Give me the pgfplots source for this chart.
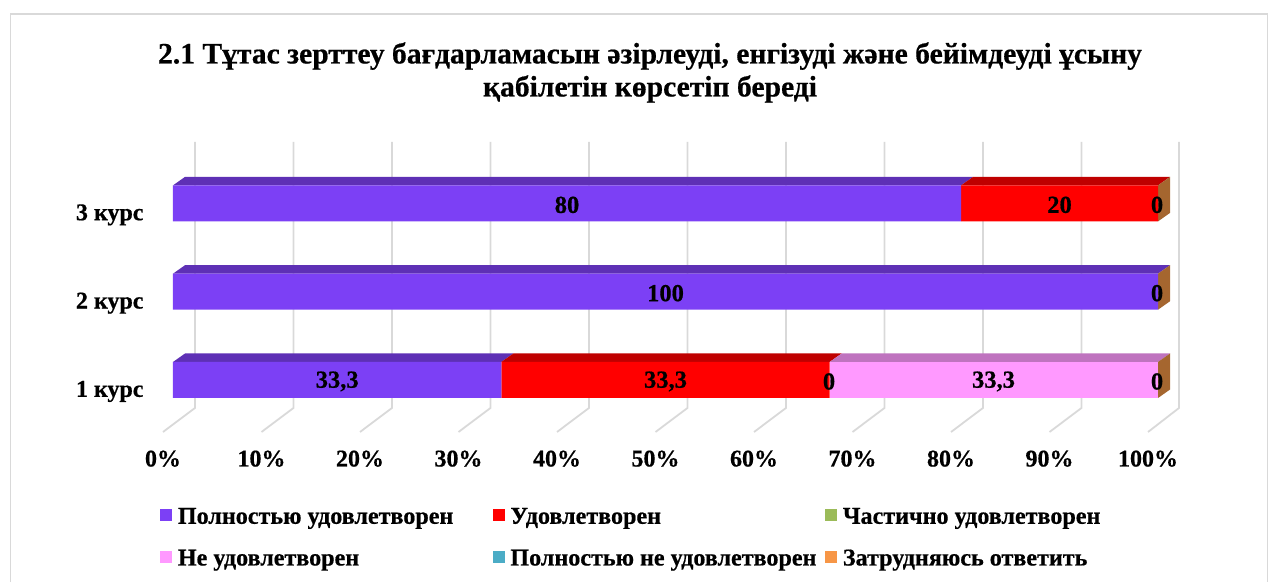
\documentclass[border=0pt]{standalone}
\usepackage{fontspec}
\setmainfont[BoldFeatures={FakeBold=0.6}]{Liberation Serif}
\usepackage{pgfplots}
\usepackage{pgfplotstable}
\pgfplotsset{compat=1.18}
\definecolor{cpurple}{HTML}{7C40F5}
\definecolor{cpurpletop}{HTML}{5E30B5}
\definecolor{cred}{HTML}{FF0000}
\definecolor{credtop}{HTML}{BF0000}
\definecolor{cgreen}{HTML}{9BBB59}
\definecolor{cpink}{HTML}{FF99FF}
\definecolor{cpinktop}{HTML}{BF73BF}
\definecolor{cteal}{HTML}{4BACC6}
\definecolor{corange}{HTML}{F79646}
\definecolor{cside}{HTML}{A5662F}
\definecolor{cgrid}{HTML}{D9D9D9}
\pgfplotstableread{
y s1 s2 s3 s4 s5 s6
1 33.33 33.33 0 33.33 0 0
2 100 0 0 0 0 0
3 80 20 0 0 0 0
}\datatable
\pgfplotstableread{
x y v
16.67 1 33.3
50 1 33.3
66.6 1 0
83.3 1 33.3
99.9 1 0
50 2 100
99.9 2 0
40 3 80
90 3 20
99.9 3 0
}\labeltable
\pgfplotsset{
  base/.style={
    at={(163pt,150pt)},anchor=south west,
    scale only axis,width=1016pt,height=290pt,
    xmin=-1.015,xmax=102.13,ymin=0.411,ymax=3.695,
  },
  sq/.style={legend image code/.code={\fill[##1] (0pt,-6pt) rectangle (12pt,6pt);}},
}
\newcommand{\lgd}[1]{\makebox[309pt][l]{\strut #1}}
\newcommand{\gridl}[2]{\addplot[cgrid,line width=1.8pt] coordinates {(#2,3.695) (#2,0.683) (#1,0.411)};}
\begin{document}
\begin{tikzpicture}[x=1pt,y=1pt]
\path[use as bounding box] (0,0) rectangle (1278,582);
\draw[cgrid,line width=1.5pt] (10.5,0) -- (10.5,568) -- (1267.5,568) -- (1267.5,0);
\node[align=center,font=\fontsize{29.6}{33}\selectfont\bfseries] at (650,509.5)
  {2.1 Тұтас зерттеу бағдарламасын әзірлеуді, енгізуді және бейімдеуді ұсыну\\қабілетін көрсетіп береді};
% grid, ticks and 3D faces
\begin{axis}[base,
  axis line style={draw=none},
  major tick length=0pt,
  xtick={0,10,...,100},
  xticklabels={0\%,10\%,20\%,30\%,40\%,50\%,60\%,70\%,80\%,90\%,100\%},
  x tick label style={font=\fontsize{24}{26}\selectfont\bfseries,xshift=-10pt,yshift=-15pt},
  ytick={1,2,3},
  yticklabels={1 курс,2 курс,3 курс},
  y tick label style={font=\fontsize{24}{26}\selectfont\bfseries,xshift=-16pt,yshift=-11.5pt},
  clip=false,
]
\gridl{-1.015}{2.23}\gridl{8.985}{12.23}\gridl{18.985}{22.23}\gridl{28.985}{32.23}\gridl{38.985}{42.23}\gridl{48.985}{52.23}\gridl{58.985}{62.23}\gridl{68.985}{72.23}\gridl{78.985}{82.23}\gridl{88.985}{92.23}\gridl{98.985}{102.13}
% 3 course
\addplot[fill=cpurpletop,draw=none] coordinates {(0,3.204) (80,3.204) (81.22,3.30) (1.22,3.30)} --cycle;
\addplot[fill=credtop,draw=none] coordinates {(80,3.204) (100,3.204) (101.22,3.30) (81.22,3.30)} --cycle;
\addplot[fill=cside,draw=none] coordinates {(100,2.796) (100,3.204) (101.22,3.30) (101.22,2.892)} --cycle;
% 2 course
\addplot[fill=cpurpletop,draw=none] coordinates {(0,2.204) (100,2.204) (101.22,2.30) (1.22,2.30)} --cycle;
\addplot[fill=cside,draw=none] coordinates {(100,1.796) (100,2.204) (101.22,2.30) (101.22,1.892)} --cycle;
% 1 course
\addplot[fill=cpurpletop,draw=none] coordinates {(0,1.204) (33.33,1.204) (34.55,1.30) (1.22,1.30)} --cycle;
\addplot[fill=credtop,draw=none] coordinates {(33.33,1.204) (66.66,1.204) (67.88,1.30) (34.55,1.30)} --cycle;
\addplot[fill=cpinktop,draw=none] coordinates {(66.66,1.204) (100,1.204) (101.22,1.30) (67.88,1.30)} --cycle;
\addplot[fill=cside,draw=none] coordinates {(100,0.796) (100,1.204) (101.22,1.30) (101.22,0.892)} --cycle;
\end{axis}
% front faces and legend
\begin{axis}[base,hide axis,
  xbar stacked,bar width=36pt,
  legend columns=3,
  legend cell align=left,
  legend style={at={(axis description cs:-0.003,-0.253)},anchor=north west,draw=none,fill=none,
    font=\fontsize{24.1}{26}\selectfont\bfseries,
    column sep=5.75pt,row sep=22pt,inner sep=0pt,nodes={inner sep=0pt}},
]
\addplot[fill=cpurple,draw=none,sq] table[x=s1,y=y] {\datatable};
\addlegendentry{\lgd{Полностью удовлетворен}}
\addplot[fill=cred,draw=none,sq] table[x=s2,y=y] {\datatable};
\addlegendentry{\lgd{Удовлетворен}}
\addplot[fill=cgreen,draw=none,sq] table[x=s3,y=y] {\datatable};
\addlegendentry{\lgd{Частично удовлетворен}}
\addplot[fill=cpink,draw=none,sq] table[x=s4,y=y] {\datatable};
\addlegendentry{\lgd{Не удовлетворен}}
\addplot[fill=cteal,draw=none,sq] table[x=s5,y=y] {\datatable};
\addlegendentry{\lgd{Полностью не удовлетворен}}
\addplot[fill=corange,draw=none,sq] table[x=s6,y=y] {\datatable};
\addlegendentry{\lgd{Затрудняюсь ответить}}
\end{axis}
% value labels
\begin{axis}[base,hide axis,clip=false,
  /pgf/number format/use comma,
  /pgf/number format/fixed,
  /pgf/number format/precision=1,
  /pgf/number format/assume math mode=true,
]
\addplot[only marks,mark=none,
  nodes near coords,point meta=explicit,
  every node near coord/.append style={anchor=center,inner sep=0pt,text=black,yshift=-1.5pt,font=\fontsize{24.5}{26}\selectfont\bfseries},
] table[x=x,y=y,meta=v] {\labeltable};
\end{axis}
\end{tikzpicture}
\end{document}
